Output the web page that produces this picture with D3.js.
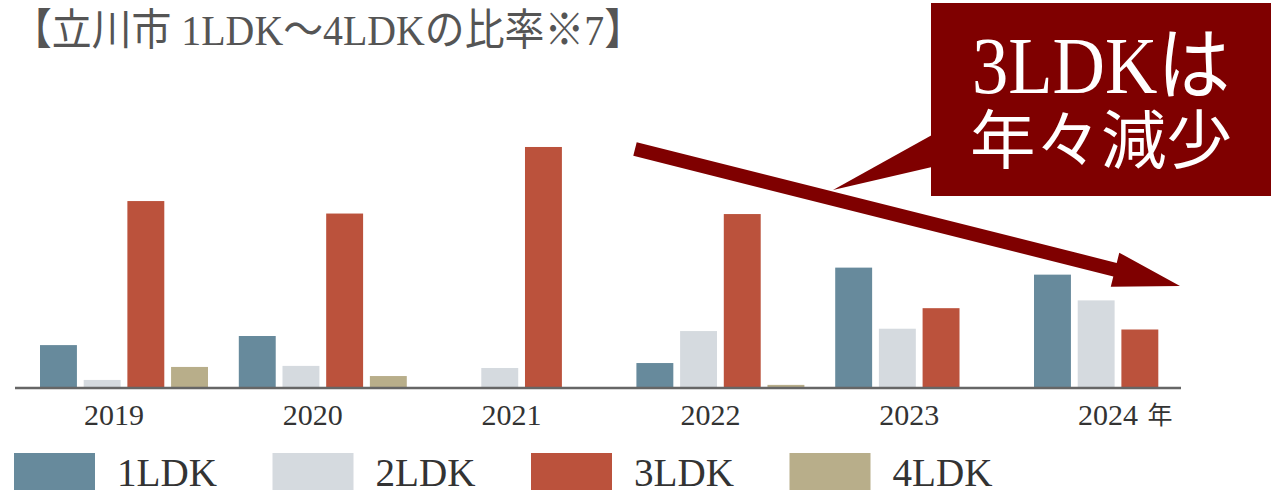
<!DOCTYPE html>
<html>
<head>
<meta charset="utf-8">
<script src="https://cdn.jsdelivr.net/npm/d3@7"></script>
<style>
  body { margin: 0; background: #fff; }
  text { font-family: "Liberation Serif", "Noto Sans CJK JP", serif; }
</style>
</head>
<body>
<svg></svg>
<script>
// categories and values (share of each type per year, %)
var years = ['2019', '2020', '2021', '2022', '2023', '2024'];
var types = ['1LDK', '2LDK', '3LDK', '4LDK'];
var ldk1 = [16.5, 20.0, 0, 9.6, 46.3, 43.6];
var ldk2 = [3.1, 8.5, 7.7, 21.9, 22.8, 33.7];
var ldk3 = [71.9, 67.1, 92.7, 66.9, 30.7, 22.5];
var ldk4 = [8.1, 4.6, 0, 1.2, 0, 0];
var colors = ['#678a9c', '#d5dadf', '#bb523c', '#b8ae8a'];

var width = 1281;
var height = 501;
var base = 388;

var series = [ldk1, ldk2, ldk3, ldk4];
var rows = years.map((y, i) => ({
  year: y,
  values: types.map((t, j) => ({ type: t, value: series[j][i] }))
}));

var svg = d3.select('svg')
    .attr('width', width)
    .attr('height', height);

//outer scale for the years, inner scale for the 4 types
var x0 = d3.scaleBand()
           .domain(years)
           .range([40, 1202])
           .paddingInner(0.155);
var x1 = d3.scaleBand()
           .domain(types)
           .range([0, x0.bandwidth()])
           .paddingInner(0.155);
var y = d3.scaleLinear()
          .domain([0, 100])
          .range([base, base - 260]);
var color = d3.scaleOrdinal()
              .domain(types)
              .range(colors);

//title
svg.append('text')
    .attr('x', 12)
    .attr('y', 45)
    .attr('font-size', 43)
    .attr('fill', '#555')
    .attr('textLength', 632)
    .attr('lengthAdjust', 'spacingAndGlyphs')
    .text('【立川市 1LDK～4LDKの比率※7】');

//bars
svg.append('g')
  .selectAll('g')
  .data(rows)
  .enter()
  .append('g')
    .attr('transform', d => 'translate(' + x0(d.year) + ',0)')
  .selectAll('rect')
  .data(d => d.values)
  .enter()
  .append('rect')
    .attr('x', d => x1(d.type))
    .attr('y', d => y(d.value))
    .attr('width', x1.bandwidth())
    .attr('height', d => base - y(d.value))
    .attr('fill', d => color(d.type));

//baseline
svg.append('line')
    .attr('x1', 15)
    .attr('x2', 1181)
    .attr('y1', base)
    .attr('y2', base)
    .attr('stroke', '#666')
    .attr('stroke-width', 2.5);

//year labels, sitting a little left of the group centre
var xAxis = svg.append('g')
    .attr('transform', 'translate(-10,' + base + ')')
    .call(d3.axisBottom(x0).tickSize(0).tickPadding(16));
xAxis.select('.domain').remove();
xAxis.selectAll('text')
    .attr('font-size', 30)
    .attr('fill', '#333')
    .style('font-family', '"Liberation Serif", serif');

svg.append('text')
    .attr('x', 1160)
    .attr('y', 424)
    .attr('text-anchor', 'middle')
    .attr('font-size', 25)
    .attr('fill', '#333')
    .text('年');

//arrow
var start = [635, 149];
var tip = [1180, 286];
var dx = tip[0] - start[0], dy = tip[1] - start[1];
var len = Math.sqrt(dx * dx + dy * dy);
var ux = dx / len, uy = dy / len;
var nx = -uy, ny = ux;
var sw = 7, hw = 17.5, hl = 67;
var bx = tip[0] - ux * hl, by = tip[1] - uy * hl;
var arrow = [
  [start[0] + nx * sw, start[1] + ny * sw],
  [bx + nx * sw, by + ny * sw],
  [bx + nx * hw, by + ny * hw],
  tip,
  [bx - nx * hw, by - ny * hw],
  [bx - nx * sw, by - ny * sw],
  [start[0] - nx * sw, start[1] - ny * sw]
];
svg.append('polygon')
    .attr('points', arrow.map(p => p.join(',')).join(' '))
    .attr('fill', '#7f0000');

//callout box with its tail
svg.append('polygon')
    .attr('points', '932,135 833,190 932,167')
    .attr('fill', '#7f0000');
svg.append('rect')
    .attr('x', 931)
    .attr('y', 3)
    .attr('width', 340)
    .attr('height', 193)
    .attr('fill', '#7f0000');
svg.append('text')
    .attr('x', 972)
    .attr('y', 93)
    .attr('font-size', 80)
    .attr('fill', '#fff')
    .attr('textLength', 258)
    .attr('lengthAdjust', 'spacingAndGlyphs')
    .text('3LDKは');
svg.append('text')
    .attr('x', 970)
    .attr('y', 163)
    .attr('font-size', 64)
    .attr('fill', '#fff')
    .attr('textLength', 262)
    .attr('lengthAdjust', 'spacingAndGlyphs')
    .text('年々減少');

//legend
var lx = d3.scalePoint()
           .domain(types)
           .range([14, 14 + 3 * 258.5]);
var legend = svg.append('g')
  .selectAll('g')
  .data(types)
  .enter()
  .append('g')
    .attr('transform', d => 'translate(' + lx(d) + ',453)');
legend.append('rect')
    .attr('width', 81)
    .attr('height', 37)
    .attr('fill', d => color(d));
legend.append('text')
    .attr('x', 103)
    .attr('y', 33)
    .attr('font-size', 40)
    .attr('fill', '#333')
    .attr('textLength', 100)
    .attr('lengthAdjust', 'spacingAndGlyphs')
    .text(d => d);
</script>
</body>
</html>
